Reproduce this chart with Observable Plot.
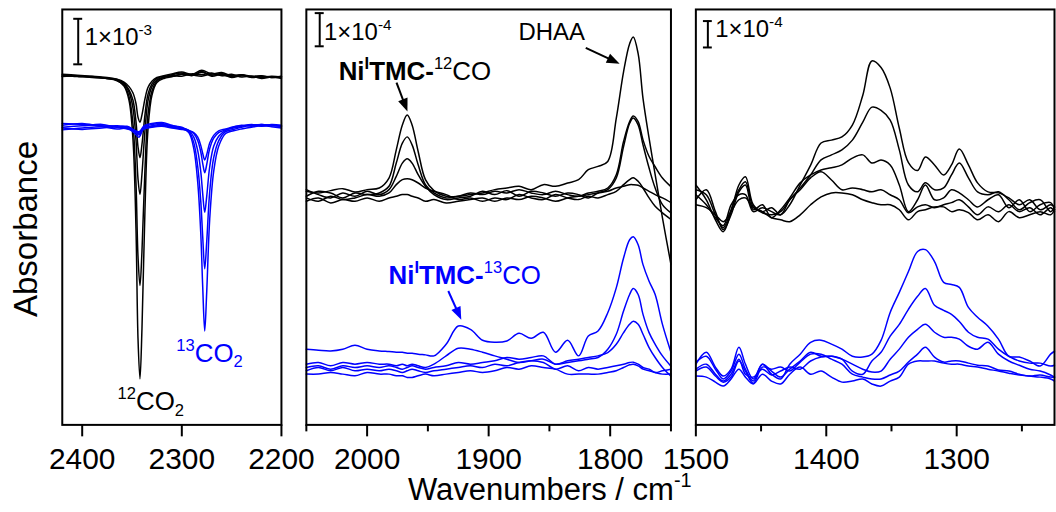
<!DOCTYPE html>
<html><head><meta charset="utf-8">
<script src="https://cdn.jsdelivr.net/npm/d3@7"></script>
<script src="https://cdn.jsdelivr.net/npm/@observablehq/plot@0.6"></script>
<style>
html,body{margin:0;padding:0;background:#fff;overflow:hidden;}
#wrap{position:relative;width:1056px;height:512px;overflow:hidden;background:#fff;}
#wrap svg{position:absolute;left:0;top:0;}
</style></head><body>
<div id="wrap"></div>
<script>
// ---------- Panel 1: CO2 region (units 1e-3 absorbance, relative to each group's baseline) ----------
const co2Grid12 = [2420,2405,2390,2375,2365,2358,2353,2349,2346,2344,2342,2340,2337,2334,2330,2325,2318,2310,2300,2290,2280,2270,2260,2250,2240,2230,2220,2210,2200];
const co2Black = [
  [0.09,0.07,0.04,0.00,-0.04,-0.17,-0.48,-1.35,-3.3,-5.7,-6.6,-5.5,-2.9,-1.13,-0.37,-0.09,0.00,0.04,0.09,0.07,0.13,0.07,0.11,0.04,0.07,0.02,0.04,0.02,0.02],
  [0.06,0.05,0.03,0.00,-0.05,-0.15,-0.40,-1.0,-2.3,-3.9,-4.55,-3.8,-2.0,-0.8,-0.28,-0.06,0.02,0.06,0.05,0.10,0.08,0.12,0.06,0.09,0.03,0.05,0.00,0.03,0.00],
  [0.04,0.06,0.02,0.01,-0.03,-0.12,-0.30,-0.65,-1.35,-2.2,-2.55,-2.1,-1.15,-0.5,-0.18,-0.03,0.03,0.08,0.12,0.06,0.15,0.05,0.09,0.02,0.06,0.04,0.02,0.05,0.03],
  [0.08,0.04,0.05,0.02,-0.02,-0.10,-0.25,-0.48,-0.95,-1.5,-1.74,-1.45,-0.8,-0.35,-0.12,0.0,0.05,0.04,0.10,0.08,0.05,0.10,0.07,0.05,0.08,0.03,0.05,0.02,0.04],
  [0.05,0.06,0.03,0.0,-0.02,-0.08,-0.18,-0.32,-0.55,-0.85,-0.96,-0.8,-0.45,-0.2,-0.06,0.02,0.06,0.10,0.14,0.09,0.18,0.10,0.13,0.06,0.08,0.05,0.06,0.03,0.05]
];
const co2Grid13 = [2420,2400,2380,2365,2355,2348,2343,2338,2330,2320,2310,2300,2293,2288,2284,2281,2279,2277,2275,2272,2268,2263,2256,2248,2240,2230,2220,2210,2200];
const co2Blue = [
  [0.10,0.08,0.05,0.03,0.0,-0.10,-0.20,0.0,0.05,0.08,0.03,0.0,-0.10,-0.45,-1.2,-2.3,-3.5,-4.46,-3.6,-2.0,-0.95,-0.40,-0.12,-0.06,-0.02,0.02,0.05,0.03,0.0],
  [0.06,0.10,0.04,0.05,0.02,-0.06,-0.15,0.02,0.08,0.10,0.05,0.02,-0.07,-0.32,-0.85,-1.6,-2.4,-3.09,-2.5,-1.4,-0.65,-0.28,-0.08,-0.03,0.02,0.06,0.08,0.05,0.04],
  [0.02,0.05,0.08,0.02,0.04,-0.04,-0.10,0.05,0.10,0.12,0.06,0.0,-0.05,-0.2,-0.5,-0.95,-1.45,-1.85,-1.5,-0.85,-0.4,-0.18,-0.05,0.0,0.04,0.08,0.05,0.07,0.03],
  [-0.04,0.0,0.03,-0.02,0.0,-0.05,-0.08,0.0,0.03,0.06,0.02,-0.02,-0.05,-0.12,-0.28,-0.52,-0.78,-0.98,-0.8,-0.45,-0.22,-0.1,-0.04,0.02,0.06,0.04,0.08,0.06,0.05],
  [0.0,-0.03,0.0,0.02,-0.02,-0.06,-0.12,-0.02,0.02,0.04,0.0,-0.03,-0.06,-0.1,-0.2,-0.38,-0.56,-0.70,-0.58,-0.33,-0.16,-0.06,-0.02,0.03,0.05,0.07,0.04,0.08,0.06]
];
const co2Offsets = {black: 7.61, blue: 6.52};

// ---------- Panel 2: carbonyl region (units 1e-4) ----------
const coGrid = [2050,2040,2030,2020,2010,2000,1990,1982,1976,1971,1967,1963,1958,1952,1945,1935,1925,1915,1905,1895,1885,1875,1865,1855,1845,1835,1826,1818,1810,1802,1795,1789,1784,1781,1777,1773,1768,1763,1757,1750];
const coBlack = [
  [0.10,0.05,0.12,0.18,0.08,0.15,0.20,0.50,1.35,2.10,2.40,2.10,1.30,0.45,0.12,-0.05,-0.05,0.0,0.05,0.15,0.20,0.25,0.15,0.30,0.25,0.35,0.45,0.75,0.85,1.0,2.3,3.7,4.55,4.75,4.25,2.9,1.7,0.6,-0.7,-2.1],
  [-0.05,0.10,0.05,-0.10,0.05,0.0,0.05,0.25,0.95,1.55,1.74,1.50,0.90,0.30,0.05,-0.10,-0.05,0.05,0.0,0.10,0.05,0.15,0.05,0.0,0.10,0.0,-0.05,0.05,0.10,0.20,0.60,1.60,2.20,2.37,2.20,1.65,1.15,0.84,0.50,0.24],
  [0.15,0.0,-0.10,0.05,-0.05,0.10,0.0,0.15,0.55,0.95,1.08,0.95,0.60,0.25,0.0,-0.15,-0.10,-0.05,0.10,0.0,0.12,-0.05,0.10,0.05,-0.05,0.05,0.0,-0.10,0.05,0.15,0.50,1.45,2.15,2.31,2.10,1.50,0.80,0.20,-0.30,-0.55],
  [-0.10,-0.20,-0.05,-0.15,-0.10,0.0,-0.05,0.05,0.30,0.45,0.48,0.45,0.35,0.20,0.10,0.0,-0.15,-0.10,-0.20,-0.10,-0.15,0.0,-0.10,-0.15,0.0,-0.10,-0.15,-0.05,-0.10,0.0,0.10,0.30,0.45,0.51,0.40,0.20,-0.10,-0.35,-0.55,-0.75],
  [-0.20,-0.10,-0.25,-0.15,-0.20,-0.10,-0.20,-0.10,-0.05,0.0,0.0,-0.05,-0.10,-0.20,-0.15,-0.25,-0.20,-0.15,-0.10,-0.20,-0.10,-0.15,-0.05,-0.10,-0.20,-0.10,-0.05,0.0,0.05,0.10,0.20,0.25,0.30,0.30,0.28,0.20,0.10,0.0,-0.10,-0.24]
];
const coBlue = [
  [0.45,0.42,0.40,0.45,0.57,0.45,0.40,0.38,0.36,0.36,0.33,0.33,0.30,0.28,0.25,0.60,1.15,1.05,0.72,0.66,0.70,0.93,0.78,0.96,0.36,0.72,0.25,0.85,1.0,1.55,2.3,3.2,3.75,3.84,3.6,3.0,2.5,2.1,1.2,0.36],
  [0.0,0.05,-0.05,0.05,0.0,0.05,0.0,0.0,-0.05,0.0,-0.05,0.0,-0.05,-0.10,0.0,0.25,0.48,0.45,0.36,0.25,0.15,0.05,0.10,0.15,0.0,0.05,0.10,0.15,0.20,0.45,0.90,1.60,2.10,2.28,2.10,1.50,0.95,0.60,0.25,-0.06],
  [-0.10,-0.05,-0.15,-0.05,-0.10,-0.05,-0.10,-0.05,-0.10,-0.15,-0.10,-0.05,-0.10,-0.15,-0.10,-0.05,0.05,0.0,0.05,0.10,0.20,0.15,0.20,0.25,0.0,0.10,0.15,0.20,0.25,0.35,0.60,0.95,1.20,1.29,1.20,0.90,0.50,0.20,-0.10,-0.36],
  [-0.20,-0.10,-0.20,-0.10,-0.20,-0.15,-0.20,-0.15,-0.20,-0.25,-0.20,-0.15,-0.20,-0.25,-0.20,-0.15,-0.10,-0.05,-0.10,0.0,-0.05,0.05,0.10,0.05,-0.15,-0.05,-0.20,-0.10,-0.15,-0.10,-0.05,0.0,0.05,0.06,0.0,-0.10,-0.15,-0.25,-0.20,-0.15],
  [-0.30,-0.30,-0.25,-0.30,-0.35,-0.25,-0.30,-0.30,-0.35,-0.35,-0.40,-0.40,-0.35,-0.30,-0.35,-0.30,-0.25,-0.20,-0.25,-0.20,-0.10,-0.15,-0.05,-0.10,-0.15,-0.30,-0.30,-0.30,-0.30,-0.25,-0.20,-0.10,-0.02,0.0,-0.05,-0.15,-0.20,-0.25,-0.30,-0.30]
];
const coOffsets = {black: 6.94, blue: 1.83};

// ---------- Panel 3: fingerprint region (units 1e-4) ----------
const fpGrid = [1500,1492,1485,1479,1473,1467,1462,1456,1449,1442,1435,1428,1420,1412,1404,1396,1388,1380,1372,1365,1358,1351,1344,1337,1330,1324,1317,1310,1304,1298,1291,1284,1276,1268,1260,1252,1244,1236,1228,1225];
const fpBlack = [
  [0.75,0.19,-0.57,-1.02,-0.26,0.75,1.06,0.0,-0.26,-0.11,-0.38,0.0,0.75,1.5,2.34,2.45,2.57,3.02,4.15,5.45,5.2,4.42,2.9,1.6,1.3,1.81,1.51,1.13,1.51,2.11,1.51,0.83,0.49,0.45,0.26,0.0,0.19,-0.19,0.0,-0.08],
  [0.57,0.38,-0.38,-0.87,-0.19,0.57,0.87,-0.08,-0.30,-0.38,-0.26,0.19,0.64,1.13,1.70,1.89,2.08,2.45,3.13,3.70,3.58,3.21,2.08,0.75,0.49,0.83,0.57,0.64,1.13,1.58,1.02,0.49,0.38,0.49,0.19,-0.19,0.08,0.19,-0.26,-0.11],
  [0.19,0.57,-0.26,-0.94,-0.38,0.49,0.75,-0.19,0.0,-0.49,-0.19,0.26,0.83,1.13,1.32,1.40,1.51,1.77,1.89,1.58,1.70,1.51,0.75,-0.26,0.19,0.75,0.19,0.26,0.57,0.45,0.19,-0.08,0.19,0.38,-0.11,0.19,-0.26,0.0,0.08,-0.19],
  [0.38,0.0,-0.49,-0.79,0.0,0.38,0.38,-0.26,-0.11,-0.26,-0.38,0.19,0.57,1.02,1.25,0.94,0.57,0.64,0.57,0.49,0.57,0.38,0.19,-0.30,-0.08,0.0,-0.11,0.0,0.08,0.19,-0.08,-0.38,-0.08,-0.26,0.0,-0.26,-0.11,-0.38,-0.11,-0.26],
  [0.0,-0.11,-0.38,-0.64,-0.26,0.19,0.26,-0.11,-0.26,-0.49,-0.57,-0.64,-0.38,0.0,0.30,0.45,0.45,0.38,0.19,0.08,0.0,0.0,-0.19,-0.57,-0.26,-0.19,-0.08,-0.08,-0.26,-0.19,-0.30,-0.57,-0.38,-0.64,-0.26,-0.49,-0.38,-0.26,-0.38,-0.19]
];
const fpBlue = [
  [0.30,0.75,0.19,-0.15,0.11,0.94,0.30,-0.26,0.30,-0.08,-0.26,0.30,0.68,1.13,1.21,1.06,0.87,0.60,0.57,0.68,1.2,2.26,3.02,3.81,4.57,4.64,4.19,3.40,3.32,3.21,2.45,2.08,1.74,1.25,0.60,0.57,0.42,0.23,0.68,0.79],
  [0.38,0.60,0.11,-0.26,0.04,0.68,0.11,-0.34,0.30,0.04,-0.19,0.11,0.42,0.75,0.60,0.60,0.49,0.04,-0.08,0.42,0.75,1.36,1.81,2.38,2.87,3.17,2.53,2.34,2.19,1.92,1.51,1.32,1.25,0.87,0.60,0.42,0.34,0.34,0.23,0.26],
  [0.11,0.30,-0.08,-0.34,-0.08,0.49,-0.08,-0.19,0.11,-0.11,0.04,0.19,0.11,0.42,0.57,0.60,0.49,0.30,0.11,0.0,0.04,0.49,0.87,1.32,1.62,1.81,1.51,1.32,1.32,1.25,0.98,0.87,1.13,0.68,0.42,0.26,0.11,0.04,-0.11,-0.19],
  [0.04,0.19,-0.15,-0.38,-0.19,0.42,0.04,-0.42,0.19,0.11,0.19,0.04,0.38,0.68,0.68,0.49,0.30,-0.08,-0.19,-0.26,-0.26,-0.11,0.04,0.38,0.68,0.94,0.57,0.38,0.42,0.42,0.34,0.26,0.23,0.08,0.04,-0.08,-0.15,-0.11,-0.19,-0.19],
  [-0.15,-0.19,-0.38,-0.53,-0.26,0.11,-0.19,-0.45,-0.08,-0.34,-0.45,-0.08,0.19,-0.08,0.04,-0.19,-0.38,-0.34,-0.26,-0.45,-0.53,-0.34,-0.19,0.30,0.42,0.42,0.42,0.34,0.30,0.30,0.23,0.19,0.11,0.04,-0.04,-0.11,-0.15,-0.19,-0.26,-0.34]
];
const fpOffsets = {black: 8.34, blue: 2.0};

// ---------- axes ticks & texts ----------
const ticksMajor = [[2400,2300,2200],[2000,1900,1800],[1500,1400,1300]];
const ticksMinor = [[],[2050,1950,1850,1750],[1450,1350,1250]];
const xTitle = [["Wavenumbers / cm"],["-1","sup"]];
const yTitle = "Absorbance";
const lbl12CO2 = [["12","sup"],["CO"],["2","sub"]];
const lbl13CO2 = [["13","sup"],["CO"],["2","sub"]];
const lblNi12 = [["Ni","bold"],["I","sup bold"],["TMC","bold"],["-","bold"],["12","sup"],["CO"]];
const lblNi13 = [["Ni","bold"],["I","sup bold"],["TMC","bold"],["-","bold"],["13","sup"],["CO"]];
const lblDHAA = [["DHAA"]];
const lblBar3 = [["1×10"],["-3","sup"]];
const lblBar4 = [["1×10"],["-4","sup"]];

const FONT = "'Liberation Sans', Arial, Helvetica, sans-serif";
const BLUE = "#0000ff";
const W = 1060, H = 512;

function series(grid, curves, offset, name) {
  return curves.flatMap((c, i) => c.map((v, j) => ({x: grid[j], y: v + offset, id: name + i})));
}

const panels = [
  {domain: [2420, 2200], left: 62, right: 282, yMax: 9.125,
   groups: [{grid: co2Grid12, curves: co2Black, off: co2Offsets.black, color: "black"},
            {grid: co2Grid13, curves: co2Blue, off: co2Offsets.blue, color: BLUE}],
   bar: {x: 2404, y1: 7.92, y2: 8.92, cap: 4.5},
   texts: [{x: 2397, y: 8.34, parts: lblBar3, size: 24, fill: "black"},
           {x: 2364, y: 0.31, parts: lbl12CO2, size: 26, fill: "black"},
           {x: 2305, y: 1.38, parts: lbl13CO2, size: 26, fill: BLUE}],
   arrows: []},
  {domain: [2050, 1750], left: 307, right: 673, yMax: 12.52,
   groups: [{grid: coGrid, curves: coBlack, off: coOffsets.black, color: "black"},
            {grid: coGrid, curves: coBlue, off: coOffsets.blue, color: BLUE}],
   bar: {x: 2039, y1: 11.41, y2: 12.41, cap: 3.7},
   texts: [{x: 2035, y: 11.59, parts: lblBar4, size: 24, fill: "black"},
           {x: 2023, y: 10.39, parts: lblNi12, size: 26, fill: "black"},
           {x: 1875, y: 11.59, parts: lblDHAA, size: 24, fill: "black"},
           {x: 1982, y: 4.23, parts: lblNi13, size: 26, fill: BLUE}],
   arrows: [{x1: 1975.4, y1: 10.30, x2: 1966.4, y2: 9.43, color: "black"},
            {x1: 1819.7, y1: 11.35, x2: 1791.8, y2: 10.87, color: "black"},
            {x1: 1932.8, y1: 4.02, x2: 1922.1, y2: 3.15, color: BLUE}]},
  {domain: [1500, 1225], left: 698, right: 1058, yMax: 15.74,
   groups: [{grid: fpGrid, curves: fpBlack, off: fpOffsets.black, color: "black"},
            {grid: fpGrid, curves: fpBlue, off: fpOffsets.blue, color: BLUE}],
   bar: {x: 1490.8, y1: 14.30, y2: 15.30, cap: 3.4},
   texts: [{x: 1484.7, y: 14.68, parts: lblBar4, size: 24, fill: "black"}],
   arrows: []}
];

function richText(sel, x, y, parts, size, fill) {
  const t = sel.append("text").attr("x", x).attr("y", y).attr("fill", fill)
    .attr("text-anchor", "start").attr("font-family", FONT).attr("font-size", size);
  let cur = 0;
  for (const [s, kind = ""] of parts) {
    const k = kind.split(" ");
    const sup = k.includes("sup"), sub = k.includes("sub"), bold = k.includes("bold");
    const target = sup ? -0.42 * size : sub ? 0.22 * size : 0;
    t.append("tspan").text(s).attr("dy", target - cur)
      .attr("font-size", (sup || sub) ? size * 0.64 : size)
      .attr("font-weight", bold ? "bold" : "normal");
    cur = target;
  }
  return t;
}

function drawArrow(sel, x1, y1, x2, y2, color) {
  const dx = x2 - x1, dy = y2 - y1, L = Math.hypot(dx, dy), ux = dx / L, uy = dy / L;
  const hl = 13, hw = 5;
  const bx = x2 - ux * hl, by = y2 - uy * hl;
  sel.append("line").attr("x1", x1).attr("y1", y1).attr("x2", bx + ux).attr("y2", by + uy)
    .attr("stroke", color).attr("stroke-width", 2);
  sel.append("polygon").attr("points", `${x2},${y2} ${bx - uy * hw},${by + ux * hw} ${bx + uy * hw},${by - ux * hw}`)
    .attr("fill", color);
}

const wrap = document.getElementById("wrap");
panels.forEach((p, pi) => {
  const marks = [];
  p.groups.forEach((g, gi) => {
    marks.push(Plot.line(series(g.grid, g.curves, g.off, "g" + gi + "_"),
      {x: "x", y: "y", z: "id", stroke: g.color, strokeWidth: 1.5, curve: "catmull-rom"}));
  });
  marks.push(Plot.frame({stroke: "black", strokeWidth: 2}));
  marks.push(Plot.axisX({ticks: ticksMajor[pi], tickSize: 12, tickPadding: 11, stroke: "black", strokeWidth: 2,
    tickFormat: d => String(d), label: null, fontSize: 30, fill: "black"}));
  if (ticksMinor[pi].length) marks.push(Plot.axisX({ticks: ticksMinor[pi], tickSize: 7, stroke: "black", strokeWidth: 2,
    tickFormat: () => "", label: null}));
  const b = p.bar;
  marks.push(Plot.ruleX([b], {x: "x", y1: "y1", y2: "y2", stroke: "black", strokeWidth: 2}));
  marks.push(Plot.ruleY([{y: b.y1, x1: b.x - b.cap, x2: b.x + b.cap}, {y: b.y2, x1: b.x - b.cap, x2: b.x + b.cap}],
    {y: "y", x1: "x1", x2: "x2", stroke: "black", strokeWidth: 2}));
  const svg = Plot.plot({
    width: W, height: H, marginLeft: p.left, marginRight: W - p.right, marginTop: 9, marginBottom: 86,
    x: {domain: p.domain}, y: {domain: [0, p.yMax], axis: null},
    style: {background: "transparent", fontFamily: FONT, fontSize: "30px", color: "black", overflow: "visible"},
    marks
  });
  const sx = svg.scale("x"), sy = svg.scale("y");
  const sel = d3.select(svg);
  for (const t of p.texts) richText(sel, sx.apply(t.x), sy.apply(t.y), t.parts, t.size, t.fill);
  for (const a of p.arrows) drawArrow(sel, sx.apply(a.x1), sy.apply(a.y1), sx.apply(a.x2), sy.apply(a.y2), a.color);
  wrap.appendChild(svg);
});

// axis titles
const ov = d3.select(wrap).append("svg").attr("width", 1056).attr("height", 512);
ov.append("text").attr("transform", "translate(37,229) rotate(-90)").attr("text-anchor", "middle")
  .attr("font-family", FONT).attr("font-size", 33).attr("fill", "black").text(yTitle);
richText(ov, 408, 500, xTitle, 31, "black");
</script></body></html>
